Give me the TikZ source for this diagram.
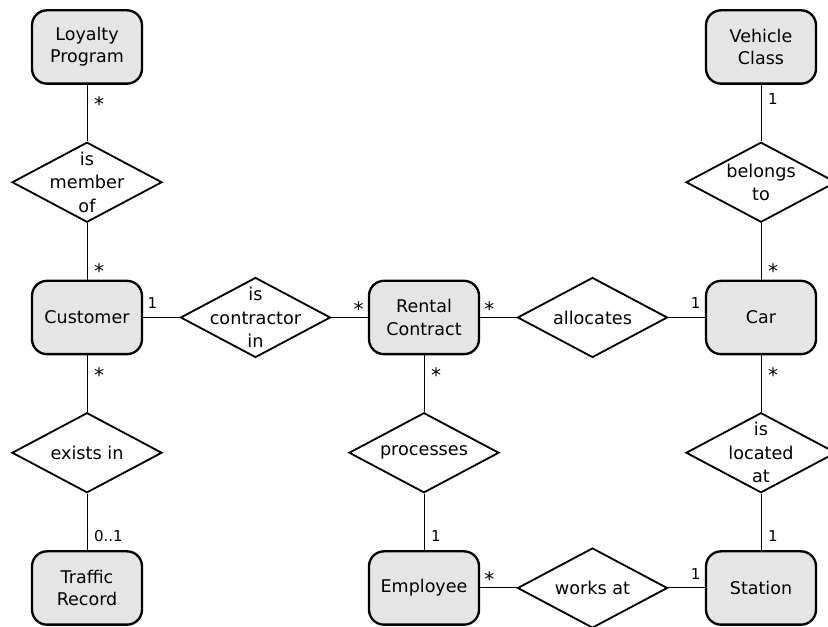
\documentclass[tikz,border=0pt]{standalone}
\usepackage{fontspec}
\setmainfont{DejaVu Sans}
\usetikzlibrary{positioning, shapes.geometric}
\newcommand{\mstar}{\raisebox{-4.6pt}[6.4pt][0pt]{\fontsize{12}{12}\selectfont *}}
\tikzset{
  ent_box/.style = {draw=black, fill=black!10, rounded corners=9pt,
    line width=1.4pt, minimum width=66pt, minimum height=44pt, align=center,
    font=\fontsize{10.5}{13.3}\selectfont},% entity
  rel_d/.style = {diamond, draw=black, fill=white, line width=1.1pt,
    inner sep=0pt, minimum width=90pt, minimum height=48pt,
    label={[align=center, font=\fontsize{10.6}{14}\selectfont]center:#1}},% relationship
  card/.style = {font=\fontsize{9}{10}\selectfont, inner sep=1pt},% multiplicity
  link/.style = {line width=0.6pt}
}
\begin{document}
\begin{tikzpicture}[node distance=81.15pt and 101.1pt, on grid]
\useasboundingbox (0,0) rectangle (496.8pt,376.2pt);
% entities and relationships
\node [ent_box] (loyal) at (52.2pt,348pt) {Loyalty\\Program};
\node [rel_d={is\\member\\of}, below=of loyal] (member) {};
\node [ent_box, below=of member] (cust) {Customer};
\node [rel_d={exists in}, below=of cust] (exists) {};
\node [ent_box, below=of exists] (traffic) {Traffic\\Record};
\node [rel_d={is\\contractor\\in}, right=of cust] (contr) {};
\node [ent_box, right=of contr] (rental) {Rental\\Contract};
\node [rel_d={processes}, below=of rental] (proc) {};
\node [ent_box, below=of proc] (empl) {Employee};
\node [rel_d={allocates}, right=of rental] (alloc) {};
\node [rel_d={works at}, right=of empl] (works) {};
\node [ent_box, right=of alloc] (car) {Car};
\node [rel_d={belongs\\to}, above=of car] (belongs) {};
\node [ent_box, above=of belongs] (vclass) {Vehicle\\Class};
\node [rel_d={is\\located\\at}, below=of car] (located) {};
\node [ent_box, below=of located] (station) {Station};
% connectors with multiplicities
\draw [link] (loyal) -- node[card, near start, right=3pt] {\mstar} (member);
\draw [link] (member) -- node[card, near end, right=3pt] {\mstar} (cust);
\draw [link] (cust) -- node[card, near start, right=3pt] {\mstar} (exists);
\draw [link] (exists) -- node[card, near end, right=3pt] {0..1} (traffic);
\draw [link] (cust) -- node[card, near start, above=4pt] {1} (contr);
\draw [link] (contr) -- node[card, near end, above=4pt] {\mstar} (rental);
\draw [link] (rental) -- node[card, near start, above=4pt] {\mstar} (alloc);
\draw [link] (alloc) -- node[card, near end, above=4pt] {1} (car);
\draw [link] (rental) -- node[card, near start, right=3pt] {\mstar} (proc);
\draw [link] (proc) -- node[card, near end, right=3pt] {1} (empl);
\draw [link] (empl) -- node[card, near start, above=4pt] {\mstar} (works);
\draw [link] (works) -- node[card, near end, above=4pt] {1} (station);
\draw [link] (vclass) -- node[card, near start, right=3pt] {1} (belongs);
\draw [link] (belongs) -- node[card, near end, right=3pt] {\mstar} (car);
\draw [link] (car) -- node[card, near start, right=3pt] {\mstar} (located);
\draw [link] (located) -- node[card, near end, right=3pt] {1} (station);
\end{tikzpicture}
\end{document}
